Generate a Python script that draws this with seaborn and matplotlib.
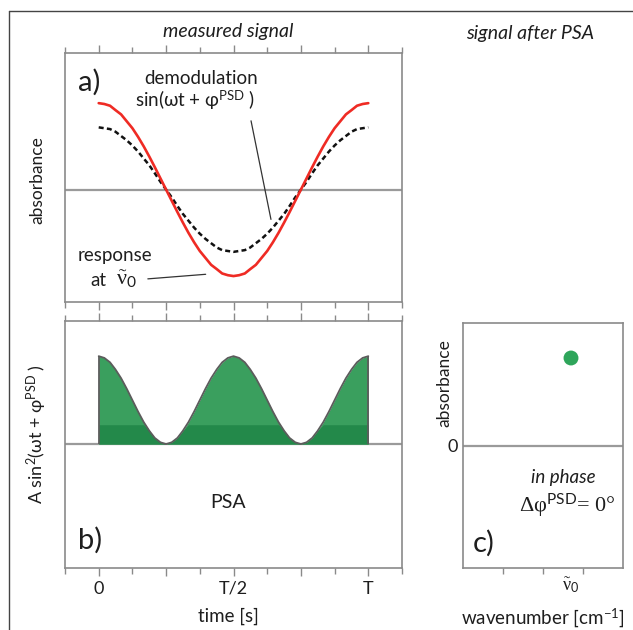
import matplotlib
matplotlib.use("Agg")
import matplotlib.pyplot as plt
from matplotlib.lines import Line2D
from matplotlib.ticker import FixedLocator, NullFormatter
import numpy as np
import seaborn as sns


# ======================================================
# data (time in units of the period T, read every T/48)
# ======================================================

t = [0.000, 0.021, 0.042, 0.062, 0.083, 0.104, 0.125, 0.146, 0.167,
     0.188, 0.208, 0.229, 0.250, 0.271, 0.292, 0.312, 0.333, 0.354,
     0.375, 0.396, 0.417, 0.438, 0.458, 0.479, 0.500, 0.521, 0.542,
     0.562, 0.583, 0.604, 0.625, 0.646, 0.667, 0.688, 0.708, 0.729,
     0.750, 0.771, 0.792, 0.812, 0.833, 0.854, 0.875, 0.896, 0.917,
     0.938, 0.958, 0.979, 1.000]

response = [1.00, 0.99, 0.97, 0.92, 0.87, 0.79, 0.71, 0.61, 0.50,
            0.38, 0.26, 0.13, 0.00, -0.13, -0.26, -0.38, -0.50, -0.61,
            -0.71, -0.79, -0.87, -0.92, -0.97, -0.99, -1.00, -0.99, -0.97,
            -0.92, -0.87, -0.79, -0.71, -0.61, -0.50, -0.38, -0.26, -0.13,
            0.00, 0.13, 0.26, 0.38, 0.50, 0.61, 0.71, 0.79, 0.87,
            0.92, 0.97, 0.99, 1.00]

demodulation = [0.72, 0.71, 0.70, 0.67, 0.62, 0.57, 0.51, 0.44, 0.36,
                0.28, 0.19, 0.09, 0.00, -0.09, -0.19, -0.28, -0.36, -0.44,
                -0.51, -0.57, -0.62, -0.67, -0.70, -0.71, -0.72, -0.71, -0.70,
                -0.67, -0.62, -0.57, -0.51, -0.44, -0.36, -0.28, -0.19, -0.09,
                0.00, 0.09, 0.19, 0.28, 0.36, 0.44, 0.51, 0.57, 0.62,
                0.67, 0.70, 0.71, 0.72]

psa_signal = [1.00, 0.98, 0.93, 0.85, 0.75, 0.63, 0.50, 0.37, 0.25,
              0.15, 0.07, 0.02, 0.00, 0.02, 0.07, 0.15, 0.25, 0.37,
              0.50, 0.63, 0.75, 0.85, 0.93, 0.98, 1.00, 0.98, 0.93,
              0.85, 0.75, 0.63, 0.50, 0.37, 0.25, 0.15, 0.07, 0.02,
              0.00, 0.02, 0.07, 0.15, 0.25, 0.37, 0.50, 0.63, 0.75,
              0.85, 0.93, 0.98, 1.00]

band_level = 0.22

time_ticks = [0, 0.25, 0.5, 0.75, 1]
time_labels = ["0", "", "T/2", "", "T"]
time_minor = [-0.125, 0.125, 0.375, 0.625, 0.875, 1.125]

psa_x = [0.675]
psa_y = [1.0]


# ======================================================
# style
# ======================================================

sns.set_theme(style="white")
plt.rcParams["font.family"] = ["Lato", "DejaVu Sans"]
plt.rcParams["mathtext.fontset"] = "custom"
plt.rcParams["mathtext.rm"] = "Liberation Serif"
plt.rcParams["mathtext.it"] = "Liberation Serif:italic"
plt.rcParams["mathtext.bf"] = "Liberation Serif:bold"
plt.rcParams["mathtext.sf"] = "Lato"
plt.rcParams["mathtext.fallback"] = "stix"

TXT = "#1e1e1e"
SPINE = "#8a8a8a"
RED = "#ef2b24"
LIGHT_GREEN = "#3a9f5e"
DARK_GREEN = "#23894a"
SERIF = ["Liberation Serif", "DejaVu Serif"]

W, H = 633, 630
fig = plt.figure(figsize=(W / 100, H / 100), dpi=100)


def px_box(x0, y0, x1, y1):
    return [x0 / W, 1 - y1 / H, (x1 - x0) / W, (y1 - y0) / H]


def fx(px):
    return px / W


def fy(py):
    return 1 - py / H


def style_axes(ax):
    for s in ax.spines.values():
        s.set_color(SPINE)
        s.set_linewidth(1.2)
    ax.set_xlabel("")
    ax.set_ylabel("")


def time_axis(ax, show_labels):
    ax.set_xlim(-0.125, 1.125)
    ax.xaxis.set_major_locator(FixedLocator(time_ticks))
    ax.xaxis.set_minor_locator(FixedLocator(time_minor))
    ax.set_xticklabels(time_labels if show_labels else [""] * 5)
    ax.xaxis.set_minor_formatter(NullFormatter())
    ax.tick_params(axis="x", which="both", top=True, bottom=True,
                   direction="out", color=SPINE, width=1.0,
                   labelsize=13, labelcolor=TXT, pad=3)
    ax.tick_params(axis="x", which="major", length=6)
    ax.tick_params(axis="x", which="minor", length=4)
    ax.set_yticks([])


# ======================================================
# a) measured signal
# ======================================================

ax_a = fig.add_axes(px_box(65, 53, 402, 302))
ax_a.axhline(0, color="#9a9a9a", lw=1.6, zorder=1)
sns.lineplot(x=t, y=demodulation, ax=ax_a, color="#111111", lw=1.8,
             linestyle=(0, (2, 1.3)), zorder=3)
sns.lineplot(x=t, y=response, ax=ax_a, color=RED, lw=1.9, zorder=4)
ax_a.set_ylim(-1.30, 1.58)
time_axis(ax_a, False)
style_axes(ax_a)

ax_a.text(-0.078, 1.243, "a)", fontsize=21, color=TXT, ha="left", va="center")
ax_a.text(0.381, 1.289, "demodulation", fontsize=13.5, color=TXT,
          ha="center", va="center")
ax_a.text(0.359, 1.035, r"sin(ωt + φ$^{\mathsf{PSD}}$ )",
          fontsize=13.5, color=TXT, ha="center", va="center")
ax_a.annotate("", xy=(0.641, -0.376), xytext=(0.563, 0.827),
              arrowprops=dict(arrowstyle="-", color="#333333", lw=0.9))
ax_a.text(-0.078, -0.757, "response", fontsize=13.5, color=TXT,
          ha="left", va="center")
ax_a.text(-0.030, -1.046, "at", fontsize=13.5, color=TXT,
          ha="left", va="center")
ax_a.text(0.066, -1.035, r"$\tilde{\mathrm{\nu}}_{\mathsf{0}}$",
          fontsize=16, color=TXT, ha="left", va="center")
ax_a.annotate("", xy=(0.407, -0.977), xytext=(0.172, -1.035),
              arrowprops=dict(arrowstyle="-", color="#333333", lw=0.9))

# ======================================================
# b) phase sensitive analysis
# ======================================================

ax_b = fig.add_axes(px_box(65, 321, 402, 568))
psa_arr = np.array(psa_signal)
ax_b.fill_between(t, 0, psa_arr, color=LIGHT_GREEN, lw=0, zorder=2)
ax_b.fill_between(t, 0, np.minimum(psa_arr, band_level),
                  color=DARK_GREEN, lw=0, zorder=2)
sns.lineplot(x=t, y=psa_signal, ax=ax_b, color="#5c5c5c", lw=1.3, zorder=3)
ax_b.vlines([t[0], t[-1]], 0, [psa_signal[0], psa_signal[-1]],
            color="#5c5c5c", lw=1.3, zorder=3)
ax_b.axhline(0, color="#9a9a9a", lw=1.6, zorder=1)
ax_b.set_ylim(-1.41, 1.40)
time_axis(ax_b, True)
style_axes(ax_b)

ax_b.text(0.478, -0.67, "PSA", fontsize=14, color=TXT, ha="center", va="center")
ax_b.text(-0.078, -1.09, "b)", fontsize=21, color=TXT, ha="left", va="center")

# ======================================================
# c) signal after PSA
# ======================================================

ax_c = fig.add_axes(px_box(463, 323, 623, 568))
ax_c.axhline(0, color="#9a9a9a", lw=1.6, zorder=1)
sns.scatterplot(x=psa_x, y=psa_y, ax=ax_c, color="#2ea55a", s=115,
                edgecolor="none", zorder=3)
ax_c.set_xlim(0, 1)
ax_c.set_ylim(-1.4, 1.4)
ax_c.set_xticks([0.25, 0.5, 0.75])
ax_c.set_xticklabels([])
ax_c.set_yticks([0])
ax_c.set_yticklabels(["0"])
ax_c.tick_params(axis="x", bottom=True, direction="out", length=4,
                 color=SPINE, width=1.0)
ax_c.tick_params(axis="y", left=False, length=0, labelsize=13,
                 labelcolor=TXT, pad=4)
style_axes(ax_c)

ax_c.text(0.625, -0.366, "in phase", fontsize=13.5, style="italic",
          color=TXT, ha="center", va="center")
ax_c.text(0.65, -0.686, r"Δφ$^{\mathsf{PSD}}$= 0°", family=SERIF,
          fontsize=16, color=TXT, ha="center", va="center")
ax_c.text(0.0625, -1.12, "c)", fontsize=21, color=TXT, ha="left", va="center")
ax_c.text(psa_x[0], -1.60, r"$\tilde{\mathrm{\nu}}_{\mathsf{0}}$", fontsize=13,
          color=TXT, ha="center", va="center", clip_on=False)

# ======================================================
# figure texts
# ======================================================

fig.text(fx(228), fy(31), "measured signal", fontsize=14, style="italic",
         color=TXT, ha="center", va="center")
fig.text(fx(530), fy(33), "signal after PSA", fontsize=14, style="italic",
         color=TXT, ha="center", va="center")
fig.text(fx(37), fy(180), "absorbance", fontsize=12.5, rotation=90,
         color=TXT, ha="center", va="center")
fig.text(fx(37), fy(434),
         r"A sin$^{\mathsf{2}}$(ωt + φ$^{\mathsf{PSD}}$ )",
         fontsize=13, rotation=90, color=TXT, ha="center", va="center")
fig.text(fx(444), fy(383), "absorbance", fontsize=12.5, rotation=90,
         color=TXT, ha="center", va="center")
fig.text(fx(228), fy(616), "time [s]", fontsize=13.5, color=TXT,
         ha="center", va="center")
fig.text(fx(543), fy(618), r"wavenumber [cm$^{\mathsf{-1}}$]", fontsize=13.5,
         color=TXT, ha="center", va="center")

# outer frame (left and top edges)
fig.add_artist(Line2D([fx(9), fx(9)], [fy(11), 0], color="#444444", lw=1.0))
fig.add_artist(Line2D([fx(9), 1], [fy(11), fy(11)], color="#444444", lw=1.0))

fig.savefig("out.png", dpi=100)
plt.close(fig)
